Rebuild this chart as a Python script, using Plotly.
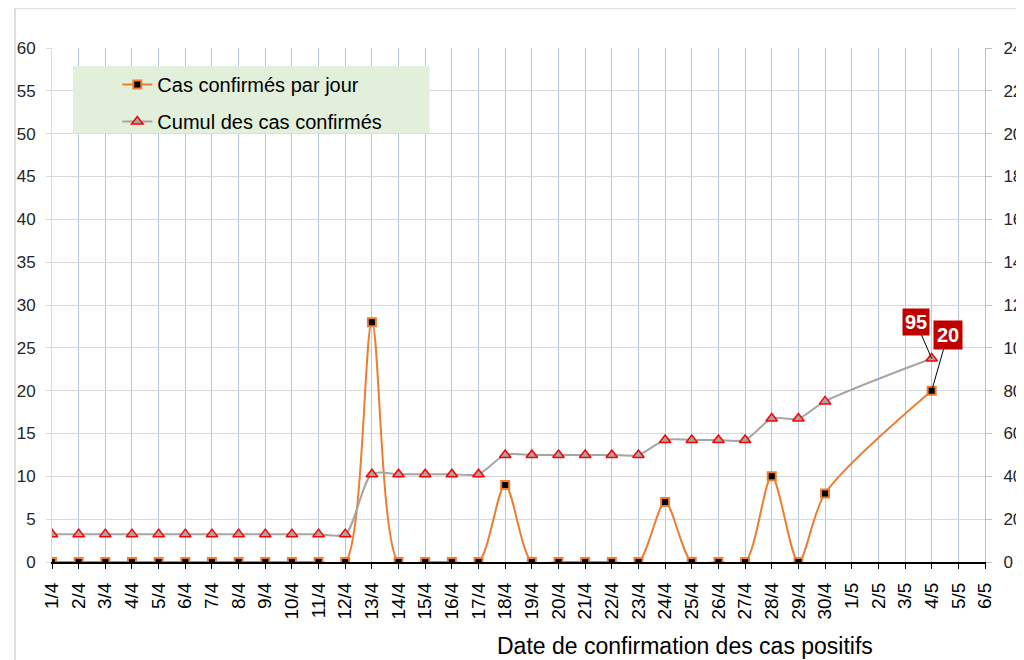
import plotly.graph_objects as go

dates = ["1/4","2/4","3/4","4/4","5/4","6/4","7/4","8/4","9/4","10/4","11/4","12/4",
         "13/4","14/4","15/4","16/4","17/4","18/4","19/4","20/4","21/4","22/4","23/4",
         "24/4","25/4","26/4","27/4","28/4","29/4","30/4","1/5","2/5","3/5","4/5","5/5","6/5"]
daily = [0,0,0,0,0,0,0,0,0,0,0,0,
         28,0,0,0,0,9,0,0,0,0,0,
         7,0,0,0,10,0,8,None,None,None,20,None,None]
cumul = [13,13,13,13,13,13,13,13,13,13,13,13,
         41,41,41,41,41,50,50,50,50,50,50,
         57,57,57,57,67,67,75,None,None,None,95,None,None]
left_ticks = list(range(0, 61, 5))
right_ticks = list(range(0, 241, 20))

FONT = "Arial, Liberation Sans, sans-serif"

fig = go.Figure()
fig.add_trace(go.Scatter(
    x=dates, y=daily, name="Cas confirmés par jour", mode="lines+markers",
    line=dict(color="#ED7D31", width=2, shape="spline", smoothing=0.8),
    marker=dict(symbol="square", size=8, color="black", line=dict(color="#ED7D31", width=2)),
    connectgaps=True, legendgroup="a", yaxis="y"))
fig.add_trace(go.Scatter(
    x=dates, y=cumul, name="Cumul des cas confirmés", mode="lines+markers",
    line=dict(color="#A5A5A5", width=2, shape="spline", smoothing=0.8),
    marker=dict(symbol="triangle-up", size=10, color="#A5A5A5", line=dict(color="#FF0000", width=1.5)),
    connectgaps=True, legendgroup="b", yaxis="y2"))

i45 = dates.index("4/5")
fig.add_annotation(x=dates[i45], y=cumul[i45], yref="y2", text="<b>95</b>",
                   showarrow=True, arrowhead=0, arrowwidth=1, arrowcolor="black",
                   ax=-16, ay=-37, bgcolor="#C00000", font=dict(color="white", size=20, family=FONT),
                   borderpad=2)
fig.add_annotation(x=dates[i45], y=daily[i45], yref="y", text="<b>20</b>",
                   showarrow=True, arrowhead=0, arrowwidth=1, arrowcolor="black",
                   ax=16, ay=-56, bgcolor="#C00000", font=dict(color="white", size=20, family=FONT),
                   borderpad=3)

fig.add_annotation(x=0.678, y=-0.163, xref="paper", yref="paper", showarrow=False,
                   text="Date de confirmation des cas positifs",
                   font=dict(size=23, color="#000000", family=FONT),
                   xanchor="center", yanchor="middle")

# chart frame
fig.add_shape(type="rect", xref="paper", yref="paper", x0=-0.0397, x1=1.3, y0=-0.6, y1=1.0778,
              line=dict(color="#BFBFBF", width=1), layer="below")
# legend box
fig.add_shape(type="rect", xref="paper", yref="paper", x0=0.0225, x1=0.4046, y0=0.834, y1=0.965,
              line=dict(width=0), fillcolor="#E2EFDA", layer="above")

fig.update_layout(
    width=1016, height=652,
    margin=dict(l=44, r=39, t=40, b=98),
    paper_bgcolor="white", plot_bgcolor="white",
    font=dict(family=FONT, color="#262626"),
    showlegend=True,
    legend=dict(x=0.07, y=0.967, xanchor="left", yanchor="top",
                bgcolor="rgba(0,0,0,0)", font=dict(size=20, color="#000000", family=FONT),
                traceorder="grouped", tracegroupgap=8),
    xaxis=dict(type="category", categoryorder="array", categoryarray=dates,
               range=[0, len(dates) - 1], tickangle=-90,
               tickfont=dict(size=19, color="#000000"),
               showgrid=True, gridcolor="#B4C7E7", gridwidth=1,
               showline=True, linecolor="black", linewidth=2,
               ticks="outside", ticklen=5, tickcolor="black", zeroline=False,
               automargin=False, ticklabelstandoff=6),
    yaxis=dict(range=[0, 60], tickvals=left_ticks, tickfont=dict(size=17, color="#262626"),
               showgrid=True, gridcolor="#D9D9D9", gridwidth=1,
               showline=True, linecolor="#D9D9D9", ticks="outside", ticklen=5,
               tickcolor="#D9D9D9", zeroline=False, automargin=False,
               ticklabelstandoff=7),
    yaxis2=dict(range=[0, 240], tickvals=right_ticks, overlaying="y", side="right",
                tickfont=dict(size=17, color="#262626"), showgrid=False,
                showline=True, linecolor="#BFBFBF", ticks="outside", ticklen=6,
                tickcolor="#BFBFBF", zeroline=False, automargin=False,
                ticklabelstandoff=8),
)

fig.write_html("out.html")
